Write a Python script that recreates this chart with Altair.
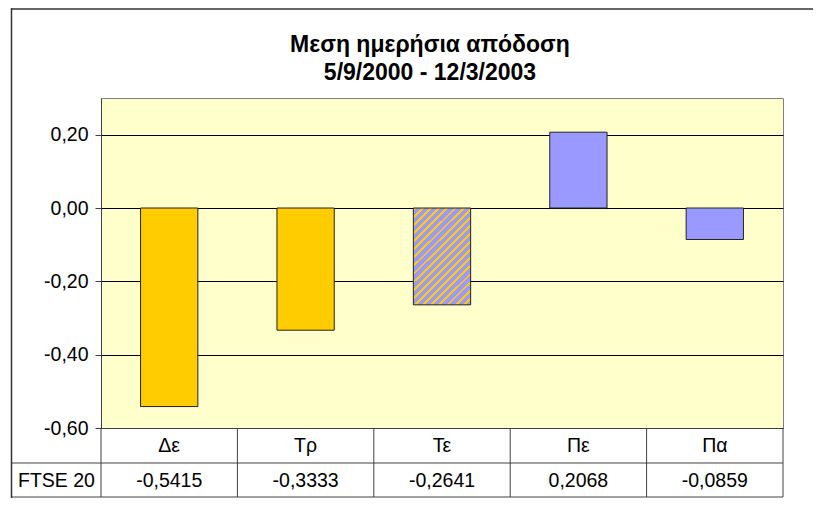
import altair as alt
import pandas as pd

# ---- data ----
categories = ["Δε", "Τρ", "Τε", "Πε", "Πα"]
values = [-0.5415, -0.3333, -0.2641, 0.2068, -0.0859]
fill_kind = ["gold", "gold", "hatch", "blue", "blue"]
series_name = "FTSE 20"
y_ticks = [-0.6, -0.4, -0.2, 0.0, 0.2]
title_lines = ["Μεση ημερήσια απόδοση", "5/9/2000 - 12/3/2003"]

df = pd.DataFrame({
    "cat": categories,
    "val": values,
    "kind": fill_kind,
    "label": [f"{v:.4f}".replace(".", ",") for v in values],
})

W, H = 682, 330
FONT = "Liberation Sans"
FS = 19.5
GOLD = "#FFCC00"
BLUE = "#9999FF"
LINE = "#404040"
PAD_IN = 0.58

x_scale = alt.Scale(domain=categories, paddingInner=PAD_IN, paddingOuter=PAD_IN / 2)
y_scale = alt.Scale(domain=[-0.6, 0.3], nice=False, zero=False)

x_enc = alt.X("cat:N", scale=x_scale, sort=categories,
              axis=alt.Axis(title=None, labels=False, ticks=False, orient="bottom",
                            domainColor=LINE, domainWidth=1, grid=False))
y_enc = alt.Y("val:Q", scale=y_scale,
              axis=alt.Axis(title=None, values=y_ticks,
                            labelExpr="replace(replace(format(datum.value, '.2f'), '.', ','), '\u2212', '-')",
                            labelFont=FONT, labelFontSize=FS, labelColor="black",
                            labelPadding=7, tickSize=6, tickColor=LINE,
                            domainColor=LINE, grid=True, gridColor="black",
                            gridWidth=1))

base = alt.Chart(df)

solid = base.transform_filter(alt.datum.kind != "hatch").mark_bar(
    stroke="#222222", strokeWidth=1
).encode(
    x=x_enc, y=y_enc, y2=alt.datum(0),
    color=alt.Color("kind:N", scale=alt.Scale(domain=["gold", "blue"], range=[GOLD, BLUE]),
                    legend=None),
)

# diagonal stripes for the hatched bar (gold on blue)
N = 19
stops = []
for i in range(N):
    a = i / N
    b = (i + 0.35) / N
    c = (i + 1) / N
    stops += [alt.GradientStop(offset=a, color=GOLD),
              alt.GradientStop(offset=b, color=GOLD),
              alt.GradientStop(offset=b, color=BLUE),
              alt.GradientStop(offset=c, color=BLUE)]
hatch_grad = alt.LinearGradient(gradient="linear", stops=stops,
                                x1=0, y1=0, x2=0.693, y2=1.18)

hatched = base.transform_filter(alt.datum.kind == "hatch").mark_bar(
    stroke="#222222", strokeWidth=1, color=hatch_grad
).encode(x=alt.X("cat:N", scale=x_scale, sort=categories),
         y=alt.Y("val:Q", scale=y_scale), y2=alt.datum(0))

# table: vertical cell borders at the category step boundaries
step = W / len(categories)
col_lines = base.mark_rule(color=LINE, strokeWidth=1,
                           xOffset=-(PAD_IN / 2) * step).encode(
    x=alt.X("cat:N", scale=x_scale, sort=categories, bandPosition=0),
    y=alt.value(H), y2=alt.value(H + 69))

cat_text = base.mark_text(font=FONT, fontSize=FS, color="black", baseline="middle").encode(
    x=alt.X("cat:N", scale=x_scale, sort=categories),
    y=alt.value(H + 18), text="cat:N")

val_text = base.mark_text(font=FONT, fontSize=FS, color="black", baseline="middle").encode(
    x=alt.X("cat:N", scale=x_scale, sort=categories),
    y=alt.value(H + 53), text="label:N")

one = alt.Chart(pd.DataFrame({"k": [0]}))

series_text = one.mark_text(font=FONT, fontSize=FS, color="black", baseline="middle",
                            align="left").encode(
    x=alt.value(-83), y=alt.value(H + 53), text=alt.value(series_name))

row_line1 = one.mark_rule(color=LINE, strokeWidth=1).encode(
    x=alt.value(-90), x2=alt.value(W), y=alt.value(H + 35))
row_line2 = one.mark_rule(color=LINE, strokeWidth=1).encode(
    x=alt.value(-90), x2=alt.value(W), y=alt.value(H + 69))
last_col = one.mark_rule(color=LINE, strokeWidth=1).encode(
    x=alt.value(W), y=alt.value(H), y2=alt.value(H + 69))

frame_left = one.mark_rule(color="#333333", strokeWidth=1.5).encode(
    x=alt.value(-89.5), y=alt.value(-90), y2=alt.value(H + 80))
frame_top = one.mark_rule(color="#333333", strokeWidth=1.5).encode(
    x=alt.value(-90), x2=alt.value(W + 40), y=alt.value(-89))

title1 = one.mark_text(font=FONT, fontSize=23, fontWeight="bold", color="black",
                       baseline="middle").encode(
    x=alt.value(329), y=alt.value(-53), text=alt.value(title_lines[0]))
title2 = one.mark_text(font=FONT, fontSize=23, fontWeight="bold", color="black",
                       baseline="middle").encode(
    x=alt.value(329), y=alt.value(-25), text=alt.value(title_lines[1]))

chart = alt.layer(
    solid, hatched, col_lines, cat_text, val_text, series_text, row_line1, row_line2,
    last_col, frame_left, frame_top, title1, title2
).properties(
    width=W, height=H,
    autosize=alt.AutoSizeParams(type="none"),
    padding={"left": 93, "top": 90, "right": 30, "bottom": 70},
    background="white",
).configure_view(
    fill="#FFFFCC", stroke="#808080", strokeWidth=1
)

chart.save("out.html", embed_options={"renderer": "svg", "actions": False})
